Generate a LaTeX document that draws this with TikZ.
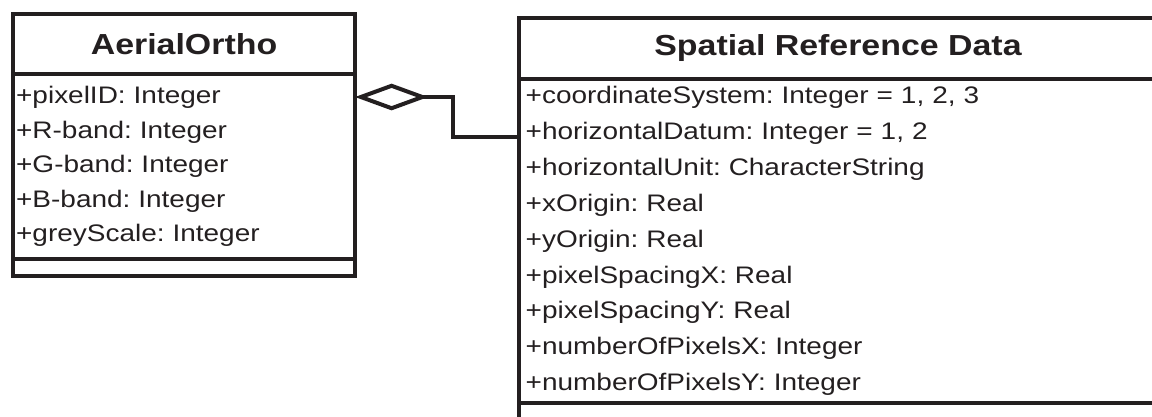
\documentclass[tikz,border=0pt]{standalone}
\usepackage{fontspec}
\setmainfont[FakeStretch=1.17]{Liberation Sans}
\usetikzlibrary{arrows.meta,positioning}
\definecolor{umlink}{HTML}{231F20}

\begin{document}
\frenchspacing
\begin{tikzpicture}[x=0.025cm,y=-0.025cm,
  cls/.style={draw=umlink,text=umlink,line width=2.85pt,outer sep=0pt,inner ysep=0pt},
  ttl/.style={cls,font=\bfseries\fontsize{20.6}{24}\selectfont},
  attr/.style={cls,align=left},
  agg/.style={{Diamond[open,length=52pt,width=19pt]}-,line width=2.85pt,draw=umlink,line join=miter}]
\useasboundingbox (0,0) rectangle (1152,416);
\clip (0,0) rectangle (1152,416);
% AerialOrtho class
\node[ttl,minimum width=8.55cm,minimum height=1.5cm] (ortho) at (184,44) {AerialOrtho};
\node[attr,below=0pt of ortho,inner xsep=0.08cm,text width=8.39cm,minimum height=4.625cm,font=\fontsize{17}{24.5}\selectfont] (orthoattr)
  {+pixelID: Integer\\+R-band: Integer\\+G-band: Integer\\+B-band: Integer\\+greyScale: Integer};
\node[cls,below=0pt of orthoattr,minimum width=8.55cm,minimum height=0.425cm] (orthoops) {};
% Spatial Reference Data class
\node[ttl,minimum width=15.95cm,minimum height=1.525cm] (srd) at (838,48.5) {Spatial Reference Data};
\node[attr,below=0pt of srd,inner xsep=0.17cm,text width=15.61cm,minimum height=8.1cm,font=\fontsize{17}{25.5}\selectfont] (srdattr)
  {+coordinateSystem: Integer = 1, 2, 3\\+horizontalDatum: Integer = 1, 2\\+horizontalUnit: CharacterString\\+xOrigin: Real\\+yOrigin: Real\\
   +pixelSpacingX: Real\\+pixelSpacingY: Real\\+numberOfPixelsX: Integer\\+numberOfPixelsY: Integer};
\node[cls,below=0pt of srdattr,minimum width=15.95cm,minimum height=1.2cm] (srdops) {};
% aggregation
\draw[agg] ([shift={(0,23)}]orthoattr.north east) -- ++(98,0) |- ([shift={(0,58)}]srdattr.north west);
\end{tikzpicture}
\end{document}
